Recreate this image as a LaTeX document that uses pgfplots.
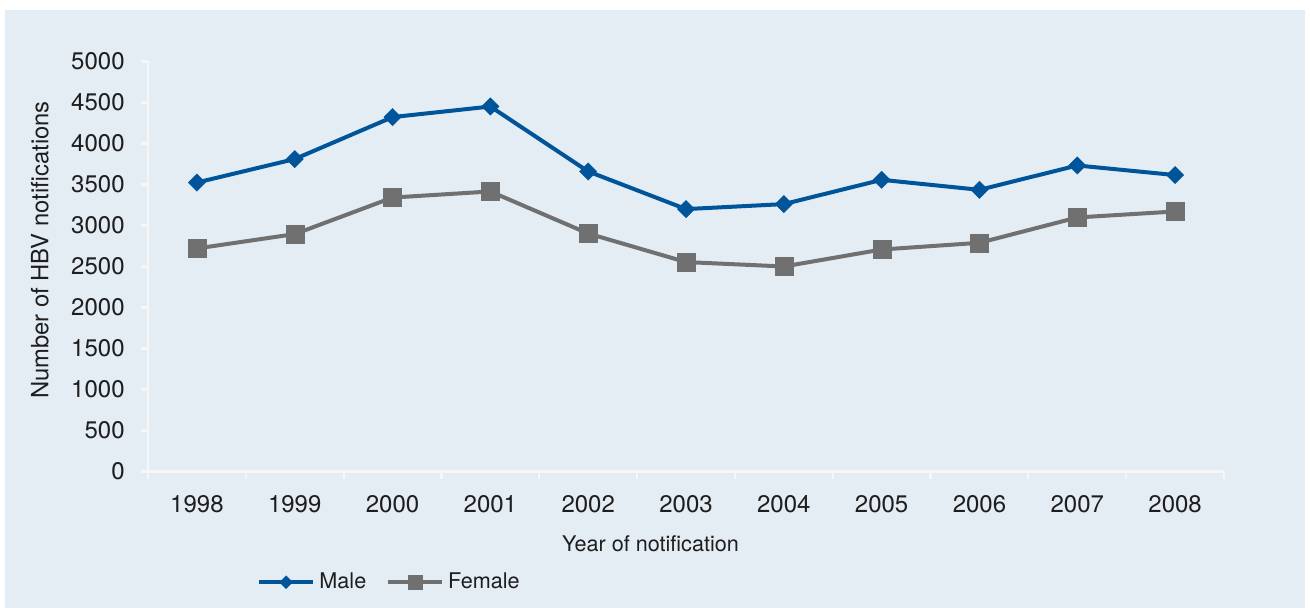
\documentclass[border=0pt]{standalone}
\usepackage{fontspec}
\setmainfont{TeX Gyre Heros}
\usepackage{pgfplots}
\pgfplotsset{compat=1.18}

\definecolor{panel}{RGB}{228,236,244}
\definecolor{maleblue}{RGB}{0,84,153}
\definecolor{femalegrey}{RGB}{112,112,112}
\definecolor{axisline}{RGB}{246,246,246}
\definecolor{txt}{RGB}{30,30,30}

\begin{document}
\begin{tikzpicture}
% page and chart panel
\fill[white] (0pt,0pt) rectangle (655pt,304pt);
\fill[panel] (2.5pt,0pt) rectangle (652.5pt,298.75pt);
\begin{axis}[
  at={(74pt,68.25pt)}, anchor=south west,
  scale only axis, width=538pt, height=205pt,
  xmin=-0.5, xmax=10.5, ymin=0, ymax=5000,
  axis x line*=bottom, axis y line*=left,
  axis line style={-, draw=axisline, line width=1.1pt},
  xtick={0,1,2,3,4,5,6,7,8,9,10},
  xticklabels={1998,1999,2000,2001,2002,2003,2004,2005,2006,2007,2008},
  minor xtick={-0.5,0.5,1.5,2.5,3.5,4.5,5.5,6.5,7.5,8.5,9.5,10.5},
  ytick={0,500,...,5000},
  tick align=outside,
  tick style={draw=axisline, line width=1.1pt},
  major x tick style={draw=none},
  major tick length=3.5pt, minor tick length=4pt,
  /pgf/number format/1000 sep={},
  /pgf/number format/assume math mode=true,
  ticklabel style={font=\fontsize{12}{14}\selectfont, text=txt},
  yticklabel style={anchor=east, inner sep=0pt, xshift=-8pt},
  xticklabel style={anchor=north, inner sep=0pt, yshift=-8.4pt},
  xlabel={Year of notification},
  xlabel style={at={(axis description cs:0.467,-0.196)}, anchor=base,
    font=\fontsize{10.8}{13}\selectfont, text=txt, inner sep=0pt},
  ylabel={Number of HBV notifications},
  ylabel style={at={(axis description cs:-0.1004,0.54)}, anchor=center,
    font=\fontsize{11.9}{14}\selectfont, text=txt, inner sep=0pt},
  legend columns=-1,
  legend style={at={(axis description cs:0.101,-0.270)}, anchor=west,
    draw=none, fill=none, font=\fontsize{10.8}{13}\selectfont, text=txt,
    /tikz/every even column/.append style={column sep=7.5pt},
    inner sep=0pt, nodes={inner sep=2.2pt}},
  legend image code/.code={%
    \draw[mark repeat=2,mark phase=2,#1]
      plot coordinates {(0pt,0pt) (13.5pt,0pt) (27pt,0pt)};},
]
\addplot[color=maleblue, line width=2pt, mark=square*, mark size=3.1pt,
  mark options={rotate=45, solid, fill=maleblue, draw=maleblue, line width=0.1pt},
  legend image post style={mark size=2.3pt}]
  coordinates {(0,3524) (1,3810) (2,4322) (3,4451) (4,3659) (5,3200)
               (6,3261) (7,3557) (8,3435) (9,3732) (10,3615)};
\addlegendentry{Male}
\addplot[color=femalegrey, line width=2pt, mark=square*, mark size=4.5pt,
  mark options={solid, fill=femalegrey, draw=femalegrey, line width=0.1pt},
  legend image post style={mark size=3.5pt}]
  coordinates {(0,2720) (1,2895) (2,3341) (3,3415) (4,2902) (5,2554)
               (6,2500) (7,2707) (8,2789) (9,3098) (10,3171)};
\addlegendentry{Female}
\end{axis}
\end{tikzpicture}
\end{document}
